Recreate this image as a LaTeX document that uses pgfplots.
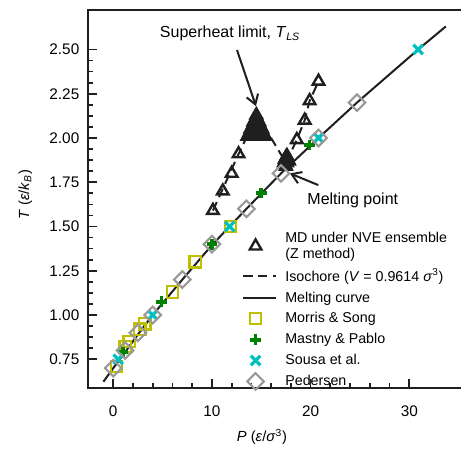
\documentclass[border=0pt]{standalone}
\usepackage{fontspec}
\setmainfont{Liberation Sans}
\usepackage{pgfplots}
\pgfplotsset{compat=1.18}
\usetikzlibrary{arrows.meta}

\definecolor{ink}{rgb}{0.12,0.12,0.12}
\definecolor{morris}{rgb}{0.75,0.75,0}
\definecolor{mastny}{rgb}{0,0.5,0}
\definecolor{sousa}{rgb}{0,0.75,0.75}
\definecolor{pedersen}{rgb}{0.6,0.6,0.6}

\begin{document}
\begin{tikzpicture}
\begin{axis}[
    name=ax,
    scale only axis,
    % the right spine lies just outside the picture, as in the cropped original
    width=283pt, height=283.5pt,
    xmin=-2.56, xmax=35.68,
    ymin=0.5876, ymax=2.723,
    xtick pos=bottom,
    ytick pos=left,
    axis line style={line width=1.6pt, ink},
    xtick={0,10,20,30},
    ytick={0.75,1.00,1.25,1.50,1.75,2.00,2.25,2.50},
    minor x tick num=4,
    minor y tick num=3,
    tick align=inside,
    major tick length=7pt,
    minor tick length=4pt,
    every tick/.style={line width=1.3pt, ink},
    /pgf/number format/assume math mode=true,
    ticklabel style={font=\fontsize{11.5}{13}\selectfont},
    yticklabel style={/pgf/number format/fixed,
        /pgf/number format/fixed zerofill,
        /pgf/number format/precision=2, xshift=-3pt},
    xticklabel style={yshift=-10pt},
    xlabel={\textit{P} (\textit{ε}/\textit{σ}\textsuperscript{3})},
    ylabel={\textit{T} (\textit{ε}/\textit{k}\textsubscript{\textit{B}})},
    label style={font=\fontsize{11}{13}\selectfont},
    xlabel style={at={(axis description cs:0.461,-0.13)}, anchor=center},
    ylabel style={at={(axis description cs:-0.166,0.511)}, anchor=center},
    clip=false,
    legend image code/.code={
        \draw[mark repeat=2, mark phase=2, #1]
            plot coordinates {(0cm,0cm) (0.32cm,0cm) (0.85cm,0cm)};},
    legend style={draw=none, fill=none,
        at={(axis description cs:0.398,0.428)}, anchor=north west,
        font=\fontsize{10.7}{12.2}\selectfont,
        row sep=2.4pt, column sep=4.5pt,
        cells={align=left}},
    legend cell align=left,
]

% MD under NVE ensemble (Z method)
\addplot[only marks, mark=triangle, mark size=5pt,
    mark options={draw=ink, fill=none, line width=1.8pt}] coordinates {
    (10.1,1.59) (11.1,1.70) (12.0,1.80) (12.7,1.91)
    (14.5,2.13)
    (14.4,2.11) (14.6,2.11)
    (14.2,2.09) (14.4,2.09) (14.6,2.09) (14.8,2.09)
    (14.1,2.07) (14.3,2.07) (14.5,2.07) (14.7,2.07) (14.9,2.07)
    (13.9,2.05) (14.1,2.05) (14.3,2.05) (14.5,2.05) (14.7,2.05) (14.9,2.05) (15.1,2.05)
    (13.8,2.03) (14.0,2.03) (14.2,2.03) (14.4,2.03) (14.6,2.03) (14.8,2.03) (15.0,2.03) (15.2,2.03)
    (13.6,2.01) (13.8,2.01) (14.0,2.01) (14.2,2.01) (14.4,2.01) (14.6,2.01) (14.8,2.01) (15.0,2.01) (15.2,2.01) (15.4,2.01)
    (17.3,1.86) (17.4,1.88) (17.5,1.89) (17.6,1.90) (17.7,1.88)
    (17.4,1.85) (17.6,1.86) (17.8,1.87) (17.5,1.84)
    (18.6,1.99) (19.4,2.10) (19.9,2.21) (20.8,2.32)
};
\addlegendentry{MD under NVE ensemble\\(Z method)}

% isochore
\addplot[ink, line width=1.5pt, dash pattern=on 7pt off 4pt] coordinates {
    (10.1,1.59) (12.7,1.91) (14.6,2.13) (17.5,1.86)
    (18.6,1.99) (19.4,2.10) (19.9,2.21) (20.8,2.32)
};
\addlegendentry{Isochore (\textit{V} = 0.9614 \textit{σ}\textsuperscript{3})}

% melting curve
\addplot[ink, line width=1.5pt] coordinates {
    (-1.0,0.623) (0,0.70) (1.2,0.79) (2.5,0.89) (4.0,1.0) (7.0,1.20)
    (10.0,1.395) (13.5,1.60) (17.0,1.80) (20.8,2.0) (24.7,2.2)
    (30.9,2.5) (33.7,2.63)
};
\addlegendentry{Melting curve}

\addplot[only marks, color=morris, mark=square, mark size=4.2pt,
    mark options={line width=1.6pt}] coordinates {
    (0.3,0.71) (1.2,0.82) (1.6,0.85) (2.7,0.92) (3.2,0.95)
    (6.0,1.13) (8.3,1.30) (11.9,1.50)
};
\addlegendentry{Morris \& Song}

\addplot[only marks, color=mastny, mark=+, mark size=4pt,
    mark options={line width=2.8pt}] coordinates {
    (1.0,0.79) (4.9,1.075) (10.0,1.40) (15.0,1.69) (19.9,1.96)
};
\addlegendentry{Mastny \& Pablo}

\addplot[only marks, color=sousa, mark=x, mark size=5pt,
    mark options={line width=2.4pt}] coordinates {
    (0.5,0.75) (4.0,1.0) (11.8,1.50) (20.8,2.0) (30.9,2.5)
};
\addlegendentry{Sousa et al.}

\addplot[only marks, color=pedersen, mark=square, mark size=4.4pt,
    mark options={line width=1.6pt, rotate=45}] coordinates {
    (0,0.70) (1.2,0.80) (2.5,0.90) (4.0,1.00) (7.0,1.20) (10.0,1.40)
    (13.5,1.60) (17.0,1.80) (20.8,2.00) (24.7,2.20)
};
\addlegendentry{Pedersen}

\node[font=\fontsize{12}{14}\selectfont] at (axis cs:11.83,2.59)
    {Superheat limit, \textit{T}\textsubscript{\textit{LS}}};
\draw[ink, line width=1.5pt, -{Straight Barb[length=7pt, width=9pt]}]
    (axis cs:12.54,2.497) -- (axis cs:14.46,2.18);
\node[font=\fontsize{12}{14}\selectfont, anchor=west] at (axis cs:19.2,1.65)
    {Melting point};
\draw[ink, line width=1.5pt, -{Straight Barb[length=7pt, width=9pt]}]
    (axis cs:20.78,1.734) -- (axis cs:17.9,1.80);
\end{axis}
\pgfresetboundingbox
\path (ax.south west) ++(-66pt,-50.25pt) coordinate (bl);
\path (ax.south west) ++(279.75pt,291pt) coordinate (tr);
\useasboundingbox (bl) rectangle (tr);
\end{tikzpicture}
\end{document}
